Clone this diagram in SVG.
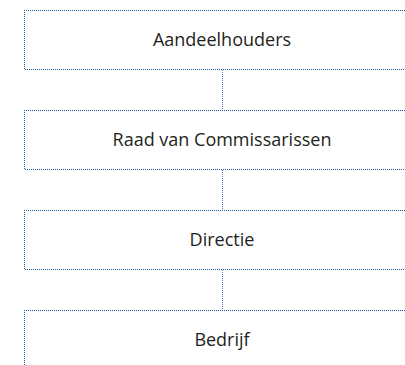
<svg xmlns="http://www.w3.org/2000/svg" width="405" height="365" viewBox="0 0 405 365">
  <style>
    .box { fill: none; stroke: #1a5aa6; stroke-width: 1; stroke-dasharray: 1 1; shape-rendering: crispEdges; }
    .link { fill: none; stroke: #4a7bb7; stroke-width: 1; stroke-dasharray: 1 1; shape-rendering: crispEdges; }
    .label { font-family: "Open Sans", "Noto Sans", sans-serif; font-size: 18px; fill: #231f20; text-anchor: middle; }
  </style>
  <rect width="405" height="365" fill="#ffffff"/>
  <g id="connectors">
    <line class="link" x1="222.5" y1="70" x2="222.5" y2="110"/>
    <line class="link" x1="222.5" y1="170" x2="222.5" y2="210"/>
    <line class="link" x1="222.5" y1="270" x2="222.5" y2="310"/>
  </g>
  <!-- each box is open on the right: top edge, left edge, bottom edge -->
  <g id="aandeelhouders">
    <path class="box" d="M405 10.5H24.5V69.5H405"/>
    <text class="label" x="222" y="46">Aandeelhouders</text>
  </g>
  <g id="raad-van-commissarissen">
    <path class="box" d="M405 110.5H24.5V169.5H405"/>
    <text class="label" x="222" y="146">Raad van Commissarissen</text>
  </g>
  <g id="directie">
    <path class="box" d="M405 210.5H24.5V269.5H405"/>
    <text class="label" x="222" y="246">Directie</text>
  </g>
  <g id="bedrijf">
    <path class="box" d="M405 310.5H24.5V365"/>
    <text class="label" x="222" y="346">Bedrijf</text>
  </g>
</svg>
